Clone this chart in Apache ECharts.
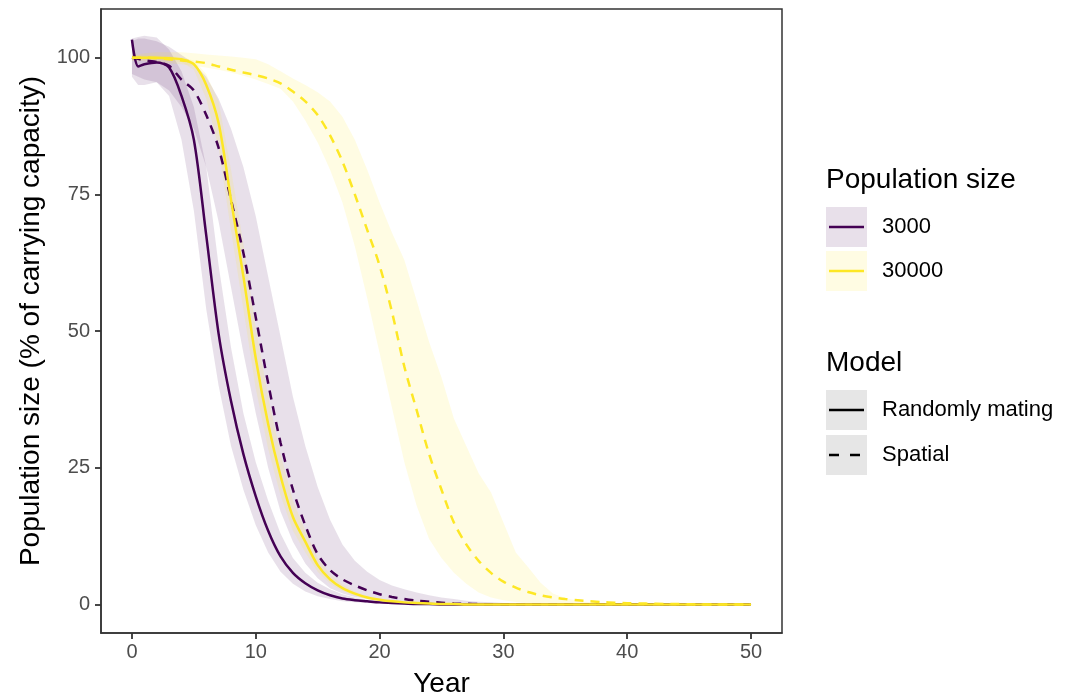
<!DOCTYPE html>
<html>
<head>
<meta charset="utf-8">
<title>Population size</title>
<script src="https://cdn.jsdelivr.net/npm/echarts@6.0.0/dist/echarts.min.js"></script>
<style>
    html, body { margin: 0; padding: 0; background: #fff; }
    #main { width: 1071px; height: 698px; }
</style>
</head>
<body>
<div id="main"></div>
<script>
// 年份
var years = [0, 0.5, 1, 2, 3, 4, 5, 6, 7, 8, 9, 10, 11, 12, 13, 14, 15, 16, 17, 18, 19, 20,
    21, 22, 23, 24, 25, 26, 27, 28, 29, 30, 31, 32, 33, 34, 35, 36, 37, 38, 39, 40,
    41, 42, 43, 44, 45, 46, 47, 48, 49, 50];

// 3000, randomly mating
var rand3000 = [103.3, 98.4, 98.8, 99.1, 98.2, 93, 85, 67.5, 49.5, 37.2, 27.5, 19.8, 13.5, 8.8, 5.8, 3.9,
    2.6, 1.7, 1.1, 0.8, 0.6, 0.4, 0.3, 0.2, 0.1, 0.1,
    0, 0, 0, 0, 0, 0, 0, 0, 0, 0, 0, 0, 0, 0, 0, 0, 0, 0, 0, 0, 0, 0, 0, 0, 0, 0];
var rand3000Lo = [96.5, 95, 95, 95.5, 93, 85, 72, 54, 40, 29, 21, 14.5, 9.5, 6, 3.8, 2.4,
    1.5, 1, 0.6, 0.4, 0.3, 0.2, 0.1, 0.05, 0, 0,
    0, 0, 0, 0, 0, 0, 0, 0, 0, 0, 0, 0, 0, 0, 0, 0, 0, 0, 0, 0, 0, 0, 0, 0, 0, 0];
var rand3000Hi = [103.5, 103.8, 104, 103.7, 101.5, 97.5, 91, 80, 62, 47, 35, 26, 19, 13, 8.5, 5.8,
    4, 2.8, 1.9, 1.3, 0.9, 0.7, 0.5, 0.35, 0.25, 0.15, 0.1, 0.05,
    0, 0, 0, 0, 0, 0, 0, 0, 0, 0, 0, 0, 0, 0, 0, 0, 0, 0, 0, 0, 0, 0, 0, 0];

// 3000, spatial
var spat3000 = [100, 99.8, 99.5, 99.2, 98.5, 96, 94, 89.5, 83.5, 74, 64.3, 52.5, 40.5, 29.6, 21, 14.5,
    9.2, 6.3, 4.6, 3.5, 2.6, 1.9, 1.4, 1, 0.7, 0.5, 0.35, 0.2, 0.15, 0.1, 0.05,
    0, 0, 0, 0, 0, 0, 0, 0, 0, 0, 0, 0, 0, 0, 0, 0, 0, 0, 0, 0, 0];
var spat3000Lo = [97, 96.5, 96, 95.5, 94, 91, 87, 80, 70, 58, 46, 35, 25, 17, 11.5, 7.5,
    4.8, 3, 2, 1.4, 1, 0.7, 0.5, 0.3, 0.2, 0.1,
    0, 0, 0, 0, 0, 0, 0, 0, 0, 0, 0, 0, 0, 0, 0, 0, 0, 0, 0, 0, 0, 0, 0, 0, 0, 0];
var spat3000Hi = [103, 103.5, 103.5, 103, 102, 100.5, 99, 96.5, 92.5, 87, 80, 71, 60, 49, 38, 29,
    21.5, 15.5, 11, 8, 6, 4.5, 3.5, 2.8, 2.2, 1.7, 1.3, 1, 0.7, 0.5, 0.4, 0.3, 0.2, 0.1,
    0, 0, 0, 0, 0, 0, 0, 0, 0, 0, 0, 0, 0, 0, 0, 0, 0, 0];

// 30000, randomly mating
var rand30000 = [100, 100, 100, 100, 99.9, 99.7, 98.8, 95, 88, 74, 60, 45, 33, 23.5, 16, 11.5,
    7.2, 4.6, 3, 2, 1.3, 0.9, 0.6, 0.4, 0.3, 0.2, 0.1, 0.1,
    0, 0, 0, 0, 0, 0, 0, 0, 0, 0, 0, 0, 0, 0, 0, 0, 0, 0, 0, 0, 0, 0, 0, 0];
var rand30000Lo = [99.5, 99.5, 99.6, 99.6, 99.5, 99.2, 97.8, 92.5, 83.5, 68.5, 54, 39.5, 28.5, 20, 13.5, 9.5,
    6, 3.8, 2.5, 1.6, 1, 0.7, 0.5, 0.3, 0.2, 0.1, 0.05,
    0, 0, 0, 0, 0, 0, 0, 0, 0, 0, 0, 0, 0, 0, 0, 0, 0, 0, 0, 0, 0, 0, 0, 0, 0];
var rand30000Hi = [100.5, 100.5, 100.4, 100.4, 100.3, 100.1, 99.5, 97, 92, 79.5, 66, 50.5, 38, 27.5, 19, 13.5,
    8.5, 5.5, 3.6, 2.4, 1.6, 1.1, 0.8, 0.6, 0.4, 0.3, 0.2, 0.1, 0.05,
    0, 0, 0, 0, 0, 0, 0, 0, 0, 0, 0, 0, 0, 0, 0, 0, 0, 0, 0, 0, 0];

// 30000, spatial
var spat30000 = [100, 100, 100, 99.9, 99.7, 99.5, 99.3, 99, 98.4, 97.8, 97.3, 96.8, 96.2, 95.3, 93.8, 92,
    89.5, 85.8, 81, 75, 68.5, 62, 53.5, 43.5, 35.5, 27.5, 21, 15, 11, 8, 5.8, 4.2,
    3.1, 2.3, 1.7, 1.3, 1, 0.8, 0.6, 0.45, 0.35, 0.25, 0.2, 0.15, 0.1, 0.1, 0.05,
    0, 0, 0, 0, 0];
var spat30000Lo = [99.5, 99.5, 99.4, 99.2, 99, 98.8, 98.5, 98.2, 97.8, 97.3, 96.7, 96, 95.2, 94.3, 92, 88.5,
    84.5, 79.5, 73.5, 65.5, 56, 46, 36, 26, 18, 12, 8.5, 5.8, 3.8, 2.2, 1.3, 0.8,
    0.45, 0.25, 0.1,
    0, 0, 0, 0, 0, 0, 0, 0, 0, 0, 0, 0, 0, 0, 0, 0, 0];
var spat30000Hi = [100.5, 100.6, 100.8, 101, 101, 101, 100.8, 100.6, 100.4, 100.2, 100, 99.7, 98.8, 97.5, 96.2, 95,
    93.7, 92, 89.2, 85, 79.5, 73.5, 68, 63, 55.5, 48, 41.5, 34, 29, 24, 20.5, 15,
    9.5, 6.8, 4, 2, 1.2, 0.7, 0.4, 0.25, 0.1,
    0, 0, 0, 0, 0, 0, 0, 0, 0, 0, 0];

// 刻度
var xTicks = [0, 10, 20, 30, 40, 50];
var yTicks = [0, 25, 50, 75, 100];

var PURPLE = '#440154';
var YELLOW = '#FDE725';
var PURPLE_FILL = 'rgba(68,1,84,0.12)';
var YELLOW_FILL = 'rgba(253,231,37,0.13)';
var FONT = 'Liberation Sans';

/**
 * 获取图表对象
 */
var getChart = function (container) {
    var dom = document.getElementById(container);
    if (!dom) {
        console.log('消息提示：无法找到指定容器【' + container + '】ID!');
        return null;
    }
    return echarts.init(dom, null, { renderer: 'canvas' });
};

var pairs = function (values) {
    return years.map(function (x, i) { return [x, values[i]]; });
};

/**
 * 置信带 (ribbon)，整块多边形画一次
 */
var band = function (lo, hi, fill) {
    return {
        type: 'custom',
        silent: true,
        clip: true,
        z: 1,
        data: [[years[0], lo[0], hi[0]]],
        renderItem: function (params, api) {
            var pts = [];
            var i;
            for (i = 0; i < years.length; i++) {
                pts.push(api.coord([years[i], hi[i]]));
            }
            for (i = years.length - 1; i >= 0; i--) {
                pts.push(api.coord([years[i], lo[i]]));
            }
            return {
                type: 'polygon',
                shape: { points: pts },
                style: { fill: fill, stroke: null }
            };
        }
    };
};

var line = function (values, color, dashed) {
    return {
        type: 'line',
        data: pairs(values),
        showSymbol: false,
        silent: true,
        smooth: 0.3,
        z: 3,
        lineStyle: { color: color, width: 2.5, type: dashed ? [9, 7] : 'solid', cap: 'butt' }
    };
};

// 图例
var legendKey = function (y, fill, color, dashed, label) {
    return [
        { type: 'rect', shape: { x: 826, y: y, width: 41, height: 40 }, style: { fill: fill } },
        {
            type: 'line', shape: { x1: 829, y1: y + 20, x2: 864, y2: y + 20 },
            style: { stroke: color, lineWidth: 2.3, lineDash: dashed ? [10, 11] : null }
        },
        {
            type: 'text', x: 882, y: y + 20,
            style: { text: label, font: '22px "' + FONT + '"', fill: '#000', textVerticalAlign: 'middle' }
        }
    ];
};

var legendTitle = function (y, text) {
    return { type: 'text', x: 826, y: y, style: { text: text, font: '28px "' + FONT + '"', fill: '#000', textVerticalAlign: 'middle' } };
};

var legendGraphics = [].concat(
    [legendTitle(180, 'Population size')],
    legendKey(207, PURPLE_FILL, PURPLE, false, '3000'),
    legendKey(251, YELLOW_FILL, YELLOW, false, '30000'),
    [legendTitle(363, 'Model')],
    legendKey(390, '#e6e6e6', '#000', false, 'Randomly mating'),
    legendKey(435, '#e6e6e6', '#000', true, 'Spatial')
);

var axisCommon = {
    type: 'value',
    nameLocation: 'middle',
    nameTextStyle: { fontFamily: FONT, fontSize: 28, color: '#000' },
    axisLine: { show: true, onZero: false, lineStyle: { color: '#333', width: 1.5 } },
    splitLine: { show: false }
};

var option = {
    animation: false,
    backgroundColor: '#fff',
    grid: {
        left: 101, top: 9, width: 681, height: 624,
        outerBoundsMode: 'none',
        containLabel: false,
        show: true, borderColor: '#333', borderWidth: 1.5, backgroundColor: 'transparent'
    },
    xAxis: echarts.util.merge({
        min: -2.5,
        max: 52.5,
        name: 'Year',
        nameGap: 37,
        axisTick: { show: true, length: 6, customValues: xTicks, lineStyle: { color: '#333', width: 1.8 } },
        axisLabel: { customValues: xTicks, margin: 9, fontFamily: FONT, fontSize: 20, color: '#4d4d4d' }
    }, axisCommon),
    yAxis: echarts.util.merge({
        min: -5.2,
        max: 108.9,
        name: 'Population size (% of carrying capacity)',
        nameRotate: 90,
        nameGap: 56,
        axisTick: { show: true, length: 6, customValues: yTicks, lineStyle: { color: '#333', width: 1.8 } },
        axisLabel: { customValues: yTicks, margin: 11, fontFamily: FONT, fontSize: 20, color: '#4d4d4d' }
    }, axisCommon),
    graphic: legendGraphics,
    series: [
        band(rand3000Lo, rand3000Hi, PURPLE_FILL),
        band(spat3000Lo, spat3000Hi, PURPLE_FILL),
        band(rand30000Lo, rand30000Hi, YELLOW_FILL),
        band(spat30000Lo, spat30000Hi, YELLOW_FILL),
        line(rand3000, PURPLE, false),
        line(spat3000, PURPLE, true),
        line(rand30000, YELLOW, false),
        line(spat30000, YELLOW, true)
    ]
};

var chart = getChart('main');
chart && chart.setOption(option);
</script>
</body>
</html>
